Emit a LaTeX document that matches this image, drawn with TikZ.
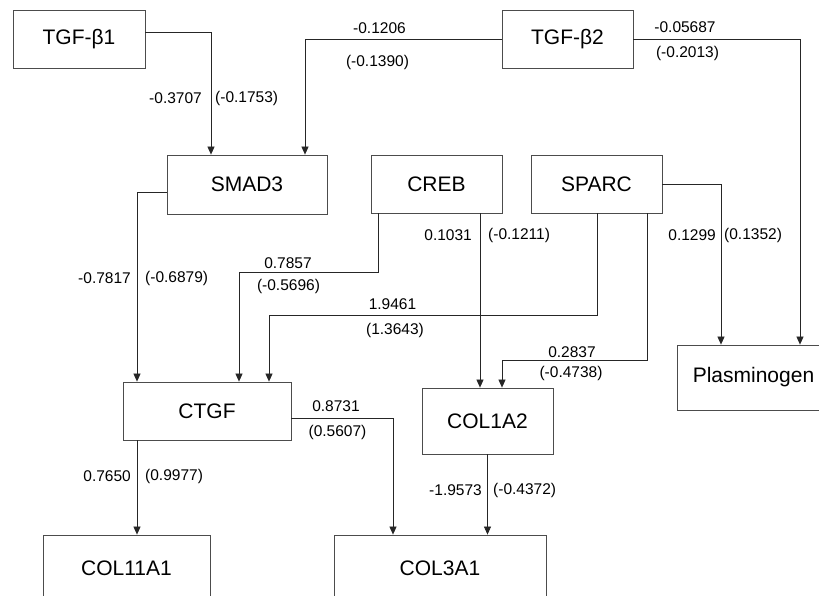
\documentclass[tikz,border=0pt]{standalone}
\usepackage{fontspec}
\setmainfont{Liberation Sans}
\usetikzlibrary{arrows.meta}
\tikzset{
  gene/.style={draw=black!70, line width=0.8pt, fill=white, inner sep=0pt, font=\fontsize{21}{24}\selectfont},
  conn/.style={draw=black!85, line width=0.7pt, -{Triangle[length=8pt,width=7pt]}},
  lbl/.style={inner sep=0pt, font=\fontsize{15.5}{18}\selectfont}
}
\begin{document}
\begin{tikzpicture}
\useasboundingbox (0pt,0pt) rectangle (819pt,-596pt);
\clip (0pt,0pt) rectangle (819pt,-596pt);
% nodes
\node[gene, minimum width=132pt, minimum height=58pt] (tgfb1) at (79pt,-39pt) {TGF-β1};
\node[gene, minimum width=131pt, minimum height=58pt] (tgfb2) at (567.5pt,-39pt) {TGF-β2};
\node[gene, minimum width=160pt, minimum height=59pt] (smad) at (247pt,-184.5pt) {SMAD3};
\node[gene, minimum width=131pt, minimum height=58pt] (creb) at (436.5pt,-184pt) {CREB};
\node[gene, minimum width=131pt, minimum height=58pt] (sparc) at (596.5pt,-184pt) {SPARC};
\node[gene, minimum width=168pt, minimum height=58pt] (ctgf) at (207pt,-411pt) {CTGF};
\node[gene, minimum width=131pt, minimum height=66pt] (col1a2) at (487.5pt,-421pt) {COL1A2};
\node[gene, minimum width=153pt, minimum height=65pt] (plas) at (753.5pt,-377.5pt) {Plasminogen};
\node[gene, minimum width=167pt, minimum height=66pt] (col11) at (126.5pt,-568pt) {COL11A1};
\node[gene, minimum width=212pt, minimum height=66pt] (col3) at (440pt,-568pt) {COL3A1};
% connectors
\draw[conn] ([yshift=7pt]tgfb1.east) -| ([xshift=-36pt]smad.north);
\draw[conn] (tgfb2.west) -| ([xshift=58pt]smad.north);
\draw[conn] (tgfb2.east) -| ([xshift=46.5pt]plas.north);
\draw[conn] ([yshift=-7.5pt]smad.west) -| ([xshift=-70pt]ctgf.north);
\draw[conn] ([xshift=-58.5pt]creb.south) -- ++(0pt,-59pt) -| ([xshift=32pt]ctgf.north);
\draw[conn] ([xshift=0.5pt]sparc.south) -- ++(0pt,-102pt) -| ([xshift=62pt]ctgf.north);
\draw[conn] ([xshift=50.5pt]sparc.south) -- ++(0pt,-147pt) -| ([xshift=14.5pt]col1a2.north);
\draw[conn] ([xshift=43.5pt]creb.south) -- ([xshift=-7.5pt]col1a2.north);
\draw[conn] (sparc.east) -| ([xshift=-32.5pt]plas.north);
\draw[conn] ([yshift=-7pt]ctgf.east) -| ([xshift=-47pt]col3.north);
\draw[conn] ([xshift=-70pt]ctgf.south) -- ([xshift=10.5pt]col11.north);
\draw[conn] (col1a2.south) -- ([xshift=47.5pt]col3.north);
% labels
\node[lbl, anchor=east] (l1a) at (202pt,-98pt) {-0.3707};
\node[lbl, anchor=west] (l1b) at (215pt,-98pt) {(-0.1753)};
\node[lbl] (l2a) at (379.5pt,-28pt) {-0.1206};
\node[lbl] (l2b) at (377.5pt,-62pt) {(-0.1390)};
\node[lbl] (l3a) at (685pt,-27pt) {-0.05687};
\node[lbl] (l3b) at (687.5pt,-53pt) {(-0.2013)};
\node[lbl, anchor=east] (l4a) at (131pt,-278pt) {-0.7817};
\node[lbl, anchor=west] (l4b) at (145pt,-278pt) {(-0.6879)};
\node[lbl] (l5a) at (288pt,-263pt) {0.7857};
\node[lbl] (l5b) at (288.5pt,-286pt) {(-0.5696)};
\node[lbl] (l6a) at (392.5pt,-304pt) {1.9461};
\node[lbl] (l6b) at (395pt,-330pt) {(1.3643)};
\node[lbl, anchor=east] (l7a) at (472pt,-235pt) {0.1031};
\node[lbl, anchor=west] (l7b) at (488pt,-235pt) {(-0.1211)};
\node[lbl] (l8a) at (572pt,-352pt) {0.2837};
\node[lbl] (l8b) at (571pt,-373pt) {(-0.4738)};
\node[lbl, anchor=east] (l9a) at (716pt,-235pt) {0.1299};
\node[lbl, anchor=west] (l9b) at (724pt,-235pt) {(0.1352)};
\node[lbl] (l10a) at (336pt,-406pt) {0.8731};
\node[lbl] (l10b) at (337.5pt,-432pt) {(0.5607)};
\node[lbl, anchor=east] (l11a) at (131pt,-476pt) {0.7650};
\node[lbl, anchor=west] (l11b) at (145pt,-476pt) {(0.9977)};
\node[lbl, anchor=east] (l12a) at (482pt,-490pt) {-1.9573};
\node[lbl, anchor=west] (l12b) at (493pt,-490pt) {(-0.4372)};
\end{tikzpicture}
\end{document}
